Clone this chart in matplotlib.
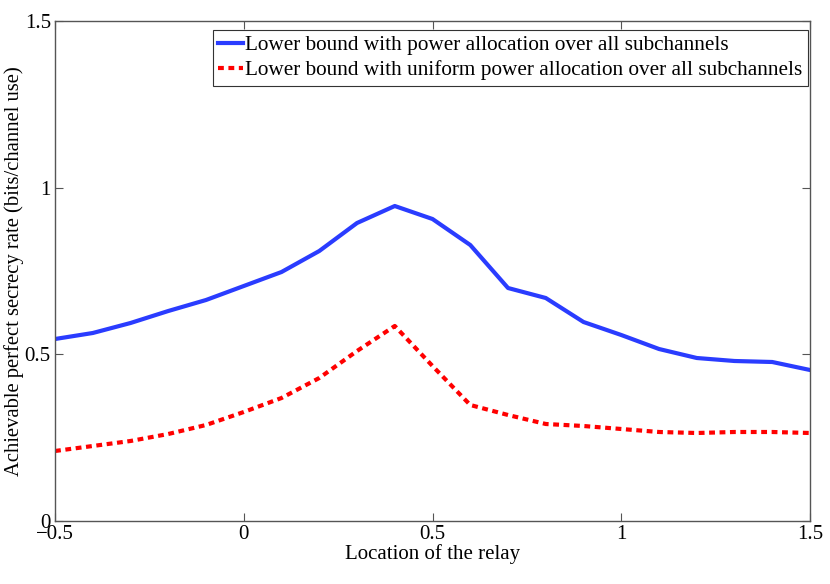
import matplotlib
matplotlib.use('Agg')
import matplotlib.pyplot as plt
import numpy as np

plt.rcParams['font.family'] = ['Liberation Serif', 'DejaVu Serif']
plt.rcParams['mathtext.fontset'] = 'stix'

# relay location
location = [-0.5, -0.4, -0.3, -0.2, -0.1, 0.0, 0.1, 0.2, 0.3, 0.4, 0.5,
            0.6, 0.7, 0.8, 0.9, 1.0, 1.1, 1.2, 1.3, 1.4, 1.5]
# lower bound, power allocation over all subchannels
rateAlloc = [0.546, 0.564, 0.594, 0.630, 0.663, 0.705, 0.747, 0.810, 0.894, 0.945, 0.906,
             0.828, 0.699, 0.669, 0.597, 0.558, 0.516, 0.489, 0.480, 0.477, 0.453]
# lower bound, uniform power allocation
rateUniform = [0.210, 0.225, 0.240, 0.261, 0.288, 0.327, 0.369, 0.429, 0.510, 0.585, 0.465,
               0.348, 0.318, 0.291, 0.285, 0.276, 0.267, 0.264, 0.267, 0.267, 0.264]

fig = plt.figure(figsize=(8.3, 5.84), dpi=100)
ax = fig.add_axes([0.0663, 0.1079, 0.9096, 0.8561])

ax.plot(location, rateAlloc, color='#2a3cff', lw=3,
        label='Lower bound with power allocation over all subchannels')
ax.plot(location, rateUniform, color='#ff0000', lw=3, linestyle=(0, (1.4, 1.1)),
        label='Lower bound with uniform power allocation over all subchannels')

ax.set_xlim(-0.5, 1.5)
ax.set_ylim(0, 1.5)
ax.set_xticks([-0.5, 0, 0.5, 1, 1.5])
ax.set_xticklabels(['\u22120.5', '0', '0.5', '1', '1.5'])
ax.set_yticks([0, 0.5, 1, 1.5])
ax.set_yticklabels(['0', '0.5', '1', '1.5'])
ax.tick_params(direction='in', top=True, right=True, labelsize=15, length=6,
               color='#555555', pad=3)
for s in ax.spines.values():
    s.set_color('#555555')
    s.set_linewidth(1.0)

ax.set_xlabel('Location of the relay', fontsize=15, labelpad=0)
fig.text(14 / 830, 1 - 271 / 584, 'Achievable perfect secrecy rate (bits/channel use)',
         fontsize=14.9, rotation=90, ha='center', va='center')

leg = ax.legend(loc='upper right', bbox_to_anchor=(0.9974, 0.982), borderaxespad=0,
                fontsize=15.3, handlelength=1.2, handletextpad=0.1,
                borderpad=0.25, labelspacing=0.25, fancybox=False, framealpha=1)
leg.get_frame().set_edgecolor('#333333')
leg.get_frame().set_linewidth(0.8)

fig.savefig('out.png', dpi=100)
